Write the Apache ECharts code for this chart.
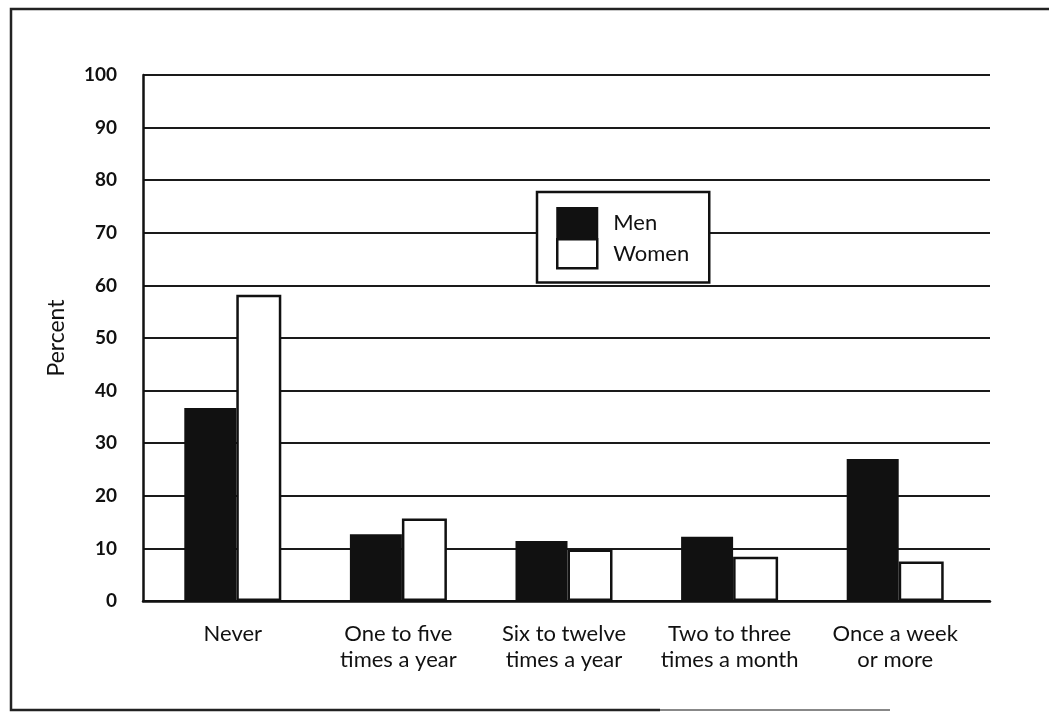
<!DOCTYPE html>
<html>
<head>
<meta charset="utf-8">
<script src="https://cdn.jsdelivr.net/npm/echarts@6/dist/echarts.min.js"></script>
<style>
html,body{margin:0;padding:0;background:#fff;}
#chart{width:1049px;height:712px;}
</style>
</head>
<body>
<div id="chart"></div>
<script>
const categories = ["Never", "One to five\ntimes a year", "Six to twelve\ntimes a year", "Two to three\ntimes a month", "Once a week\nor more"];
const menValues = [36.7, 12.7, 11.4, 12.2, 27];
const womenValues = [58.2, 15.7, 9.8, 8.4, 7.5];
const yAxisName = "Percent";
const seriesNames = ["Men", "Women"];

const ink = '#111';
const font = 'Lato, "Open Sans", sans-serif';

const chart = echarts.init(document.getElementById('chart'), null, {renderer: 'canvas'});
chart.setOption({
  backgroundColor: '#fff',
  animation: false,
  graphic: [
    {type: 'polyline', shape: {points: [[1049, 9], [11, 9], [11, 710], [660, 710]]}, style: {stroke: '#222', lineWidth: 2.5, fill: null}},
    {type: 'line', shape: {x1: 660, y1: 710, x2: 890, y2: 710}, style: {stroke: '#888', lineWidth: 2}}
  ],
  grid: [
    {left: 143, right: 59, top: 75, bottom: 111},
    {left: 150, width: 828, top: 75, bottom: 111}
  ],
  xAxis: [
    {gridIndex: 0, type: 'value', min: 0, max: 1, axisLine: {show: true, onZero: false, lineStyle: {color: ink, width: 2.5}}, axisTick: {show: false}, axisLabel: {show: false}, splitLine: {show: false}},
    {gridIndex: 1, type: 'category', data: categories, axisLine: {show: false}, axisTick: {show: false},
     axisLabel: {margin: 20, color: ink, fontFamily: font, fontSize: 22, lineHeight: 26, interval: 0}}
  ],
  yAxis: [
    {gridIndex: 0, type: 'value', min: 0, max: 100, interval: 10,
     name: yAxisName, nameLocation: 'middle', nameRotate: 90, nameGap: 75,
     nameTextStyle: {color: ink, fontFamily: font, fontSize: 23},
     axisLine: {show: true, lineStyle: {color: ink, width: 2.5}}, axisTick: {show: false},
     axisLabel: {margin: 26, color: ink, fontFamily: font, fontSize: 19, fontWeight: 'bold'},
     splitLine: {show: true, lineStyle: {color: '#1a1a1a', width: 2}}},
    {gridIndex: 1, type: 'value', min: 0, max: 100, show: false, splitLine: {show: false}}
  ],
  legend: {
    orient: 'vertical', left: 537, top: 192,
    backgroundColor: '#fff', borderColor: ink, borderWidth: 2.5,
    padding: [15, 20, 13, 19],
    itemWidth: 40, itemHeight: 29, itemGap: 0,
    textStyle: {color: ink, fontFamily: font, fontSize: 22, padding: [0, 0, 0, 11]},
    data: [
      {name: seriesNames[0], icon: 'rect', itemStyle: {color: ink, borderColor: ink, borderWidth: 2}},
      {name: seriesNames[1], icon: 'rect', itemStyle: {color: '#fff', borderColor: ink, borderWidth: 2.5}}
    ]
  },
  series: [
    {name: seriesNames[0], type: 'bar', xAxisIndex: 1, yAxisIndex: 1, data: menValues, barWidth: 52, barGap: '0%',
     itemStyle: {color: ink}},
    {name: seriesNames[1], type: 'bar', xAxisIndex: 1, yAxisIndex: 1, data: womenValues, barWidth: 45, barGap: '0%',
     itemStyle: {color: '#fff', borderColor: ink, borderWidth: 2.5}}
  ]
});
</script>
</body>
</html>
